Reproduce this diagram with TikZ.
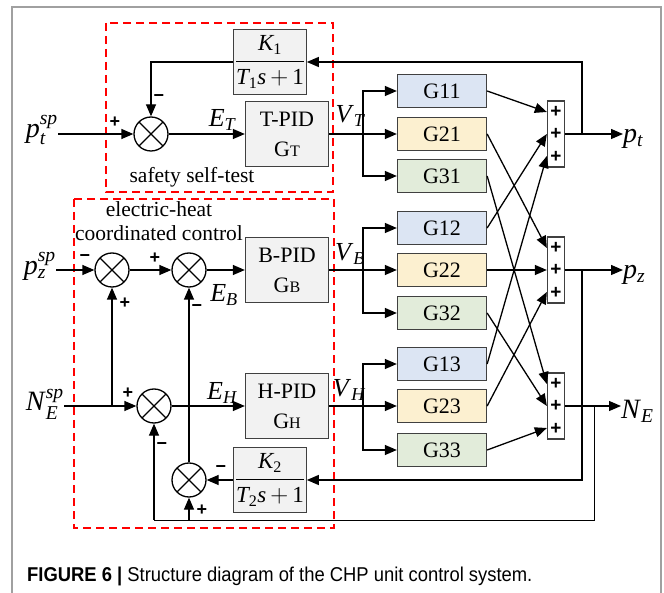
\documentclass[tikz,border=0pt]{standalone}
\usepackage{amsmath}
\usepackage{fontspec}
\setmainfont{Liberation Serif}
\newfontfamily\signfont{Liberation Sans}
\newfontfamily\capfont[FakeStretch=0.92]{Liberation Sans}
\usetikzlibrary{arrows.meta,calc}
\definecolor{gblue}{RGB}{220,229,243}
\definecolor{gyellow}{RGB}{252,240,208}
\definecolor{ggreen}{RGB}{226,236,218}
\definecolor{pidgray}{RGB}{242,242,242}
\definecolor{framegray}{RGB}{160,160,160}
\newcommand\labsub[2]{\textit{#1}$_{\textit{#2}}$}
\newcommand\labsp[2]{\textit{#1}$_{\textit{#2}}^{\textit{sp}}$}
\newcommand\lag[1]{$\dfrac{\textit{K}_{\textup{#1}}}{\textit{T}_{\textup{#1}}\textit{s}\,{+}\,\textup{1}}$}

\tikzset{
  arr/.style={-{Triangle[length=12pt,width=10pt]}, line width=1.3pt},
  pidbox/.style={draw=black!75, fill=pidgray, line width=1.3pt, minimum width=83pt,
    minimum height=65pt, align=center, font=\fontsize{22}{30}\selectfont},
  lagbox/.style={draw=black!75, fill=pidgray, line width=1.3pt, minimum width=67pt,
    minimum height=65pt, inner sep=1pt, font=\fontsize{23}{26}\selectfont},
  gbox/.style={draw=black!75, line width=1.3pt, minimum width=89pt, minimum height=33pt,
    inner sep=0pt, font=\fontsize{22}{24}\selectfont},
  sumc/.style={circle, draw, line width=1.3pt, minimum size=34pt, inner sep=0pt,
    path picture={\draw[line width=1.3pt]
      (path picture bounding box.north west) -- (path picture bounding box.south east)
      (path picture bounding box.north east) -- (path picture bounding box.south west);}},
  addbox/.style={draw=black!75, line width=1.3pt, minimum width=17pt, minimum height=66pt,
    inner sep=0pt, align=center, font=\signfont\bfseries\fontsize{19}{22.5}\selectfont},
  sgn/.style={font=\signfont\bfseries\fontsize{18}{18}\selectfont, inner sep=0pt},
  biglab/.style={font=\fontsize{28}{30}\selectfont, inner sep=0pt},
  midlab/.style={font=\fontsize{26}{28}\selectfont, inner sep=0pt},
  txt/.style={font=\fontsize{21.5}{24}\selectfont, inner sep=0pt},
  redbox/.style={draw=red, dash pattern=on 8pt off 5pt, line width=1.5pt},
}

\begin{document}
\begin{tikzpicture}[x=1pt, y=-1pt]
  \useasboundingbox (0,0) rectangle (664,593);
  \draw [framegray, line width=2pt] (12,593) -- (12,7) -- (661,7) -- (661,593);

  % dashed groups
  \draw [redbox] (106,23) rectangle (333,192);
  \draw [redbox] (74,199) rectangle (334,528);
  \node [txt] (safe) at (192,177) {safety self-test};
  \node [txt] (eh1) at (159,209) {electric-heat};
  \node [txt] (eh2) at (159,233) {coordinated control};

  % controllers
  \node [sumc] (ct) at (151,134) {};
  \node [lagbox] (k1) at (270,62) {\lag{1}};
  \node [pidbox] (tpid) at (287,134) {T-PID\\G{\fontsize{16}{16}\selectfont T}};
  \node [sumc] (cz) at (112,270) {};
  \node [sumc] (cb) at (189,270) {};
  \node [pidbox] (bpid) at (287,270) {B-PID\\G{\fontsize{16}{16}\selectfont B}};
  \node [sumc] (ch) at (154,406) {};
  \node [pidbox] (hpid) at (287,406) {H-PID\\G{\fontsize{16}{16}\selectfont H}};
  \node [sumc] (cn) at (189,480) {};
  \node [lagbox] (k2) at (270,480) {\lag{2}};

  % plant
  \node [gbox, fill=gblue] (g11) at (442,91) {G11};
  \node [gbox, fill=gyellow] (g21) at (442,134) {G21};
  \node [gbox, fill=ggreen] (g31) at (442,176) {G31};
  \node [gbox, fill=gblue] (g12) at (442,228) {G12};
  \node [gbox, fill=gyellow] (g22) at (442,270) {G22};
  \node [gbox, fill=ggreen] (g32) at (442,313) {G32};
  \node [gbox, fill=gblue] (g13) at (442,364) {G13};
  \node [gbox, fill=gyellow] (g23) at (442,406) {G23};
  \node [gbox, fill=ggreen] (g33) at (442,450) {G33};
  \node [addbox] (s1) at (556,134) {+\\+\\+};
  \node [addbox] (s2) at (556,270) {+\\+\\+};
  \node [addbox] (s3) at (556,406) {+\\+\\+};

  % inputs and outputs
  \node [biglab, anchor=east] (ptsp) at (58,130) {\labsp{p}{t}};
  \node [biglab, anchor=east] (pzsp) at (56,266) {\labsp{p}{z}};
  \node [biglab, anchor=east] (nesp) at (64,404) {\labsp{N}{E}};
  \node [biglab, anchor=west] (pt) at (623,139) {\labsub{p}{t}};
  \node [biglab, anchor=west] (pz) at (623,275) {\labsub{p}{z}};
  \node [biglab, anchor=west] (ne) at (621,411) {\labsub{N}{E}};

  \node [midlab] (et) at (222,120) {\labsub{E}{T}};
  \node [midlab] (eb) at (224,295) {\labsub{E}{B}};
  \node [midlab] (ehl) at (222,393) {\labsub{E}{H}};
  \node [midlab] (vt) at (350,116) {\labsub{V}{T}};
  \node [midlab] (vb) at (350,254) {\labsub{V}{B}};
  \node [midlab] (vh) at (349,390) {\labsub{V}{H}};

  % signs
  \node [sgn] at (115,122) {+};
  \node [sgn] at (159,98) {−};
  \node [sgn] at (85,258) {−};
  \node [sgn] at (125,303) {+};
  \node [sgn] at (155,258) {+};
  \node [sgn] at (197,308) {−};
  \node [sgn] at (128,393) {+};
  \node [sgn] at (162,446) {−};
  \node [sgn] at (221,469) {−};
  \node [sgn] at (202,510) {+};

  % branch points
  \coordinate (bt) at (363,134);
  \coordinate (bb) at (363,270);
  \coordinate (bh) at (363,406);
  \coordinate (ft) at (582,134);
  \coordinate (fz) at (582,270);
  \coordinate (fn) at (594,406);
  \coordinate (fa) at (154,520);
  \coordinate (fc) at (189,520);
  \coordinate (fs) at (112,406);

  % top loop
  \draw [arr] (ptsp.east |- ct.west) -- (ct.west);
  \draw [arr] (ct.east) -- (tpid.west);
  \draw [arr] (k1.west) -| (ct.north);
  \draw [arr] (ft) |- (k1.east);

  % middle loops
  \draw [arr] (pzsp.east |- cz.west) -- (cz.west);
  \draw [arr] (cz.east) -- (cb.west);
  \draw [arr] (cb.east) -- (bpid.west);
  \draw [arr] (nesp.east |- ch.west) -- (ch.west);
  \draw [arr] (fs) -- (cz.south);
  \draw [arr] (ch.east) -- (hpid.west);
  \draw [arr] (cn.north) -- (cb.south);
  \draw [arr] (k2.west) -- (cn.east);
  \draw [arr] (fz) |- (k2.east);
  \draw (fn) |- (fa);
  \draw [arr] (fa) -- (ch.south);
  \draw [arr] (fc) -- (cn.south);

  % controller outputs
  \draw [arr] (tpid.east) -- (g21.west);
  \draw [arr] (bt) |- (g11.west);
  \draw [arr] (bt) |- (g31.west);
  \draw [arr] (bpid.east) -- (g22.west);
  \draw [arr] (bb) |- (g12.west);
  \draw [arr] (bb) |- (g32.west);
  \draw [arr] (hpid.east) -- (g23.west);
  \draw [arr] (bh) |- (g13.west);
  \draw [arr] (bh) |- (g33.west);

  % cross couplings
  \draw [arr] (g11.east) -- ([yshift=22pt]s1.west);
  \draw [arr] (g12.east) -- (s1.west);
  \draw [arr] (g13.east) -- ([yshift=-22pt]s1.west);
  \draw [arr] (g21.east) -- ([yshift=22pt]s2.west);
  \draw [arr] (g22.east) -- (s2.west);
  \draw [arr] (g23.east) -- ([yshift=-22pt]s2.west);
  \draw [arr] (g31.east) -- ([yshift=22pt]s3.west);
  \draw [arr] (g32.east) -- (s3.west);
  \draw [arr] (g33.east) -- ([yshift=-22pt]s3.west);

  \draw [arr] (s1.east) -- (s1.east -| pt.west);
  \draw [arr] (s2.east) -- (s2.east -| pz.west);
  \draw [arr] (s3.east) -- (s3.east -| ne.west);

  \node [anchor=west, inner sep=0pt, font=\capfont\fontsize{20}{22}\selectfont] (cap) at (27,576)
    {\textbf{FIGURE 6 |} Structure diagram of the CHP unit control system.};
\end{tikzpicture}
\end{document}
